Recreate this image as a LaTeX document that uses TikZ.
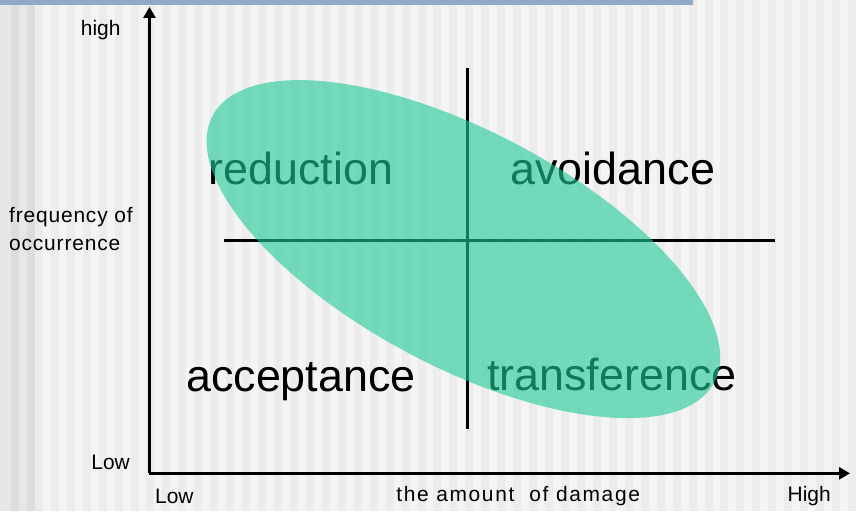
\documentclass[tikz,border=0pt]{standalone}
\usepackage{fontspec}
\setmainfont{Liberation Sans}
\usetikzlibrary{arrows.meta}

\definecolor{stripelight}{HTML}{F4F4F4}
\definecolor{stripedark}{HTML}{ECECEC}
\definecolor{edgedark}{HTML}{DDDDDD}
\definecolor{edgelight}{HTML}{E7E7E7}
\definecolor{barblue}{HTML}{8FA9C6}
\definecolor{mint}{RGB}{30,202,150}

\begin{document}
\begin{tikzpicture}[x=1pt,y=1pt,>={Triangle[length=11pt,width=12pt]},
			every node/.style={inner sep=0pt,font=\fontsize{21}{28}\selectfont},
			strategy/.style={anchor=base,font=\fontsize{45}{48}\selectfont},
			axis/.style={line width=3.5pt,->},
			quadline/.style={line width=3pt}]
			
			% background
			\fill[stripelight] (0,0) rectangle (856,513);
			\foreach \x in {35,51,...,855}
			\fill[stripedark] (\x,0) rectangle ++(8,513);
			\fill[edgelight] (0,0) rectangle (35,513);
			\foreach \x in {11,27}
			\fill[edgedark] (\x,0) rectangle ++(8,513);
			\fill[barblue] (0,508) rectangle (695,513);
			\useasboundingbox (0,0) rectangle (856,513);
			
			\coordinate (origin) at (150,38);
			
			\coordinate (ytip) at (150,506);
			
			\coordinate (xtip) at (853,38);
			
			\coordinate (vtop) at (469,445);
			
			\coordinate (vbottom) at (469,82);
			
			\coordinate (hleft) at (225,272);
			
			\coordinate (hright) at (778,272);
			
			\node (high) at (101,483){high};
			
			\node (lowy) at (111,49){Low};
			
			\node (lowx) at (175,15){Low};
			
			\node (damage) at (520,15){\addfontfeature{LetterSpace=8}the amount\ \ of damage};
			
			\node (highx) at (812,15){High};
			
			\node (freq)[anchor=west,align=left] at (9,283){\addfontfeature{LetterSpace=4}frequency of\\\addfontfeature{LetterSpace=4}occurrence};
			
			\node (reduction)[strategy] at (302,328){reduction};
			
			\node (avoidance)[strategy] at (615,328){avoidance};
			
			\node (acceptance)[strategy] at (302,120){acceptance};
			
			\node (transference)[strategy] at (614,121){transference};
			
			\draw[axis](origin)--(ytip);
			
			\draw[axis](origin)--(xtip);
			
			\draw[quadline](vtop)--(vbottom);
			
			\draw[quadline](hleft)--(hright);
			
			\fill[mint,opacity=0.6,rotate around={-28:(465,263)}] (465,263) ellipse (285 and 118);
			
		\end{tikzpicture}
\end{document}
